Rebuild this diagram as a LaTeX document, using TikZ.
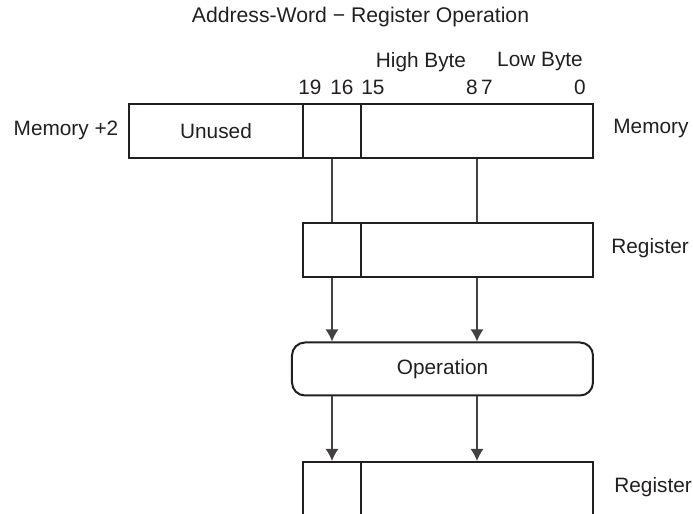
\documentclass[tikz,border=0pt]{standalone}
\usepackage{fontspec}
\setmainfont{Liberation Sans}
\usetikzlibrary{arrows.meta}
\definecolor{ink}{HTML}{231F20}
\begin{document}
\begin{tikzpicture}[x=0.5pt,y=-0.5pt,
  field/.style={draw=ink,line width=1pt,minimum height=27pt,inner sep=0pt,text=ink,font=\fontsize{10.4}{12}\selectfont},
  lbl/.style={text=ink,inner sep=0pt,font=\fontsize{10.4}{12}\selectfont},
  flow/.style={draw=ink!85,line width=0.65pt},
  arr/.style={flow,-{Latex[length=6pt,width=6.5pt]}}]
\useasboundingbox (0,0) rectangle (693,514);
\clip (0,0) rectangle (693,514);
\node[lbl,font=\fontsize{10.6}{12}\selectfont] (title) at (360.5,17) {Address-Word − Register Operation};
% bit numbers
\node[lbl] (hb) at (421,62) {High Byte};
\node[lbl] (lb) at (540,62) {Low Byte};
\node[lbl] (b19) at (310,87) {19};
\node[lbl] (b16) at (342,87) {16};
\node[lbl] (b15) at (373,87) {15};
\node[lbl] (b8) at (472,87) {8};
\node[lbl] (b7) at (487,87) {7};
\node[lbl] (b0) at (580,87) {0};
% memory word
\node[field,minimum width=87pt] (memun) at (216,131) {Unused};
\node[field,minimum width=29pt] (memmid) at (332,131) {};
\node[field,minimum width=116pt] (memlo) at (477,131) {};
\node[lbl] (mem2) at (66,130) {Memory +2};
\node[lbl,anchor=west] (mem) at (613,129) {Memory};
% register
\node[field,minimum width=29pt] (regmid) at (332,250) {};
\node[field,minimum width=116pt] (reglo) at (477,250) {};
\node[lbl,anchor=west] (reg) at (611,248) {Register};
% operation
\node[field,rounded corners=6.5pt,minimum width=150.5pt,minimum height=26.5pt] (op) at (442.5,369) {Operation};
% result register
\node[field,minimum width=29pt] (resmid) at (332,489) {};
\node[field,minimum width=116pt] (reslo) at (477,489) {};
\node[lbl,anchor=west] (res) at (614,487) {Register};
% lines
\path[flow] (memmid.south) -- (regmid.north);
\path[flow] (memlo.south) -- (reglo.north);
\path[arr] (regmid.south) -- (regmid.south |- op.north);
\path[arr] (reglo.south) -- (reglo.south |- op.north);
\path[arr] (resmid.north |- op.south) -- (resmid.north);
\path[arr] (reslo.north |- op.south) -- (reslo.north);
\end{tikzpicture}
\end{document}
